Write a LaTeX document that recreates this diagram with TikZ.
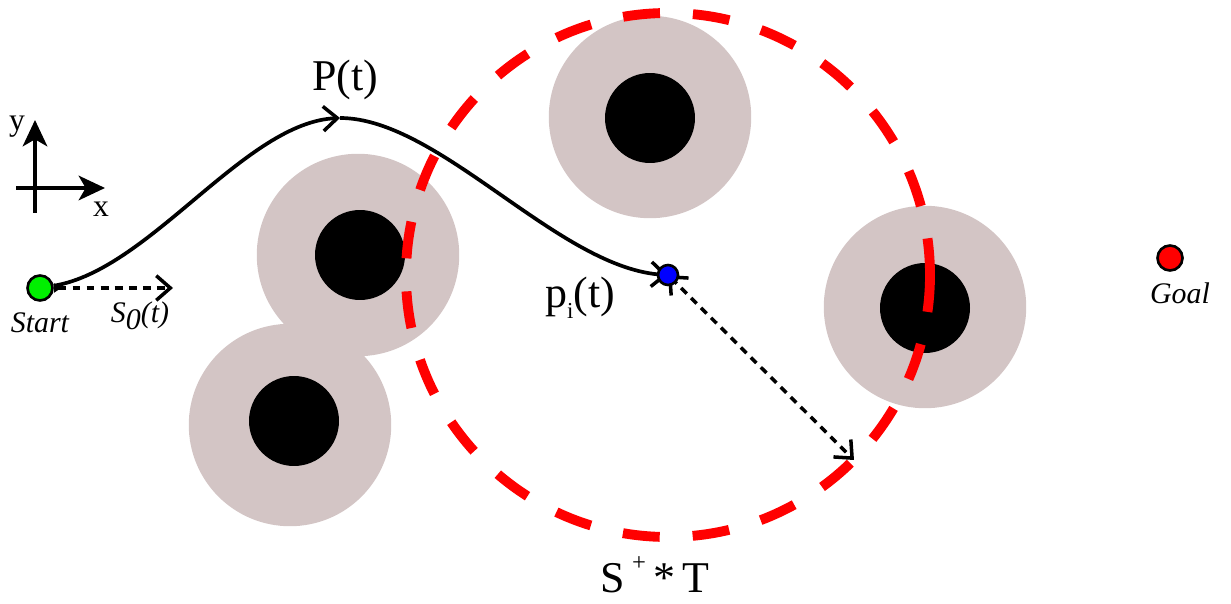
\documentclass[tikz,border=0pt]{standalone}
\usepackage{fontspec}
\setmainfont{Liberation Serif}
\usetikzlibrary{arrows.meta}
\definecolor{obst}{RGB}{211,197,197}
\definecolor{startgreen}{RGB}{0,240,0}
\definecolor{dotblue}{RGB}{0,0,255}
\pgfdeclarelayer{bg}
\pgfsetlayers{bg,main}
\tikzset{barb/.tip={Straight Barb[length=8pt,width=14pt,line width=2pt]}}
\begin{document}
\begin{tikzpicture}[x=0.02cm,y=-0.02cm,
  halo/.style={circle,fill=obst,inner sep=0pt,minimum size=4.05cm},
  core/.style={circle,fill=black,inner sep=0pt,minimum size=1.8cm},
  zone/.style={red,line width=5.6pt,dash pattern=on 0.74cm off 0.66cm},
  traj/.style={line width=2.1pt},
  dashline/.style={line width=2pt,dash pattern=on 4.5pt off 3.5pt},
  axisline/.style={line width=2pt,-{Stealth[length=15pt,width=14pt,inset=4pt]}},
  dot/.style={circle,draw=black,line width=1.5pt,inner sep=0pt,minimum size=#1},
  big/.style={font=\fontsize{25}{29}\selectfont},
  small/.style={font=\fontsize{17}{20}\selectfont\itshape}
]
\useasboundingbox (0,0) rectangle (1231,604);

% nodes
\node[dot=0.5cm,fill=startgreen] (start) at (40,288) {};
\node[dot=0.5cm,fill=red] (goal) at (1170,258) {};
\node[dot=0.4cm,fill=dotblue] (pi) at (668,275) {};
\coordinate (peak) at (340,118);
\coordinate (s0end) at (173,288);
\coordinate (reach) at (854,460);

% obstacles, zone and connectors
\begin{pgfonlayer}{bg}
\node[halo] (h3) at (290,425) {};
\node[halo] (h2) at (358,255) {};
\node[halo] (h1) at (650,117) {};
\node[halo] (h4) at (925,307) {};
\node[core] (c3) at (294,421) {};
\node[core] (c2) at (360,255) {};
\node[core] (c1) at (650,118) {};
\node[core] (c4) at (925,308) {};
\draw[zone] (pi.center) circle[radius=262];
\draw[traj,-{barb}] (start) .. controls (150,270) and (245,122) .. (peak);
\draw[traj,-{barb}] (peak) .. controls (440,118) and (560,270) .. (pi.center);
\draw[dashline,{barb}-{barb}] (pi.center) -- (reach);
\draw[dashline,{Latex[length=5pt,width=6pt,reversed]}-{barb}] (start) -- (s0end);
\end{pgfonlayer}

% axes
\coordinate (yb) at (35,213);
\coordinate (yt) at (35,120);
\coordinate (xl) at (16,188);
\coordinate (xr) at (105,188);
\draw[axisline] (yb) -- (yt);
\draw[axisline] (xl) -- (xr);
\node[font=\fontsize{18}{21}\selectfont] (ylab) at (17,127) {y};
\node[font=\fontsize{18}{21}\selectfont] (xlab) at (101,209) {x};

% labels
\node[big] (lP) at (345,80) {P(t)};
\node[big] (lpi) at (580,298) {p\raisebox{-0.55ex}{\fontsize{13}{15}\selectfont i}(t)};
\node[big] (lS) at (655,575) {S\,\raisebox{1.1ex}{\fontsize{14}{16}\selectfont +}\,*\,T};
\node[small] (lstart) at (40,323) {Start};
\node[small] (lS0) at (140,316) {S\raisebox{-0.5ex}{0}(t)};
\node[small] (lgoal) at (1180,293) {Goal};
\end{tikzpicture}
\end{document}
